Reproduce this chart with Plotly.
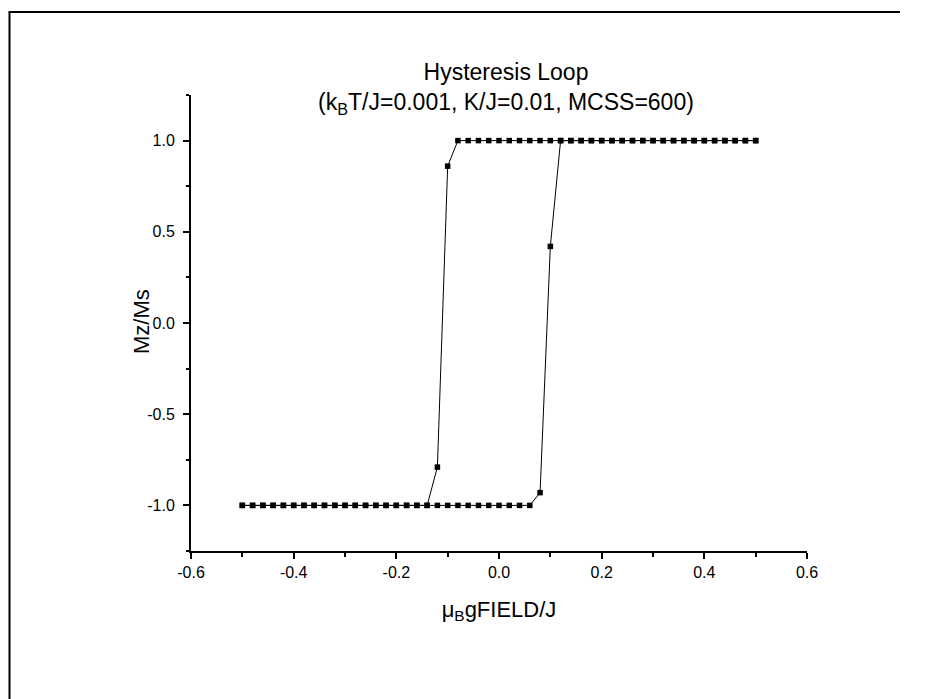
import plotly.graph_objects as go

# Reduced field sweep values (mu_B g FIELD / J)
field = [-0.50, -0.48, -0.46, -0.44, -0.42, -0.40, -0.38, -0.36, -0.34, -0.32,
         -0.30, -0.28, -0.26, -0.24, -0.22, -0.20, -0.18, -0.16, -0.14, -0.12,
         -0.10, -0.08, -0.06, -0.04, -0.02, 0.00, 0.02, 0.04, 0.06, 0.08,
         0.10, 0.12, 0.14, 0.16, 0.18, 0.20, 0.22, 0.24, 0.26, 0.28,
         0.30, 0.32, 0.34, 0.36, 0.38, 0.40, 0.42, 0.44, 0.46, 0.48, 0.50]

# Magnetisation on the decreasing-field branch
m_down = [-1.0, -1.0, -1.0, -1.0, -1.0, -1.0, -1.0, -1.0, -1.0, -1.0,
          -1.0, -1.0, -1.0, -1.0, -1.0, -1.0, -1.0, -1.0, -1.0, -0.79,
          0.86, 1.0, 1.0, 1.0, 1.0, 1.0, 1.0, 1.0, 1.0, 1.0,
          1.0, 1.0, 1.0, 1.0, 1.0, 1.0, 1.0, 1.0, 1.0, 1.0,
          1.0, 1.0, 1.0, 1.0, 1.0, 1.0, 1.0, 1.0, 1.0, 1.0, 1.0]

# Magnetisation on the increasing-field branch
m_up = [-1.0, -1.0, -1.0, -1.0, -1.0, -1.0, -1.0, -1.0, -1.0, -1.0,
        -1.0, -1.0, -1.0, -1.0, -1.0, -1.0, -1.0, -1.0, -1.0, -1.0,
        -1.0, -1.0, -1.0, -1.0, -1.0, -1.0, -1.0, -1.0, -1.0, -0.93,
        0.42, 1.0, 1.0, 1.0, 1.0, 1.0, 1.0, 1.0, 1.0, 1.0,
        1.0, 1.0, 1.0, 1.0, 1.0, 1.0, 1.0, 1.0, 1.0, 1.0, 1.0]

x_tickvals = [-0.6, -0.4, -0.2, 0.0, 0.2, 0.4, 0.6]
x_ticktext = ["-0.6", "-0.4", "-0.2", "0.0", "0.2", "0.4", "0.6"]
y_tickvals = [-1.0, -0.5, 0.0, 0.5, 1.0]
y_ticktext = ["-1.0", "-0.5", "0.0", "0.5", "1.0"]

FONT = "Arial, 'Liberation Sans', sans-serif"

# Plot-area geometry in pixels
W, H = 939, 699
L, R, T, B = 191, 132, 95, 148
PW, PH = W - L - R, H - T - B


def px_x(px):
    return (px - L) / PW


def px_y(py):
    return (H - B - py) / PH


fig = go.Figure()
for m in (m_down, m_up):
    fig.add_trace(go.Scatter(
        x=field, y=m, mode="lines+markers",
        line=dict(color="black", width=1),
        marker=dict(symbol="square", size=5.5, color="black"),
        showlegend=False, hoverinfo="x+y",
    ))

axis_common = dict(
    showgrid=False, zeroline=False, showline=True, linecolor="black",
    linewidth=2, ticks="outside", ticklen=6, tickwidth=1.5, tickcolor="black",
    tickmode="array", tickfont=dict(family=FONT, size=16, color="black"),
)

fig.update_xaxes(
    **axis_common, range=[-0.6, 0.6], tickvals=x_tickvals, ticktext=x_ticktext,
    minor=dict(ticks="outside", dtick=0.1, tick0=0, ticklen=3.5,
               tickwidth=1.5, tickcolor="black"),
    title=dict(text="μ<sub>B</sub>gFIELD/J",
               font=dict(family=FONT, size=22, color="black"), standoff=21),
)
fig.update_yaxes(
    **axis_common, range=[-1.25, 1.25], tickvals=y_tickvals, ticktext=y_ticktext,
    ticklabelstandoff=5,
    minor=dict(ticks="outside", dtick=0.25, tick0=0, ticklen=3.5,
               tickwidth=1.5, tickcolor="black"),
)

# Y-axis title placed beside the tick labels
fig.add_annotation(
    text="Mz/Ms", xref="paper", yref="paper",
    x=px_x(141), y=px_y(322), xanchor="center", yanchor="middle",
    textangle=-90, showarrow=False,
    font=dict(family=FONT, size=22, color="black"),
)

# Page frame: left and top edges
fig.add_shape(type="line", xref="paper", yref="paper",
              x0=px_x(9.5), x1=px_x(9.5), y0=px_y(12), y1=px_y(699),
              line=dict(color="black", width=2))
fig.add_shape(type="line", xref="paper", yref="paper",
              x0=px_x(8.5), x1=px_x(900), y0=px_y(12), y1=px_y(12),
              line=dict(color="black", width=2))

fig.update_layout(
    width=W, height=H,
    margin=dict(l=L, r=R, t=T, b=B),
    paper_bgcolor="white", plot_bgcolor="white",
    font=dict(family=FONT, color="black"),
    title=dict(
        text="Hysteresis Loop<br>(k<sub>B</sub>T/J=0.001, K/J=0.01, MCSS=600)",
        font=dict(family=FONT, size=23, color="black"),
        x=px_x(506), xref="paper", xanchor="center",
        y=1 - 80 / H, yref="container", yanchor="top",
    ),
)

fig.write_html("out.html")
